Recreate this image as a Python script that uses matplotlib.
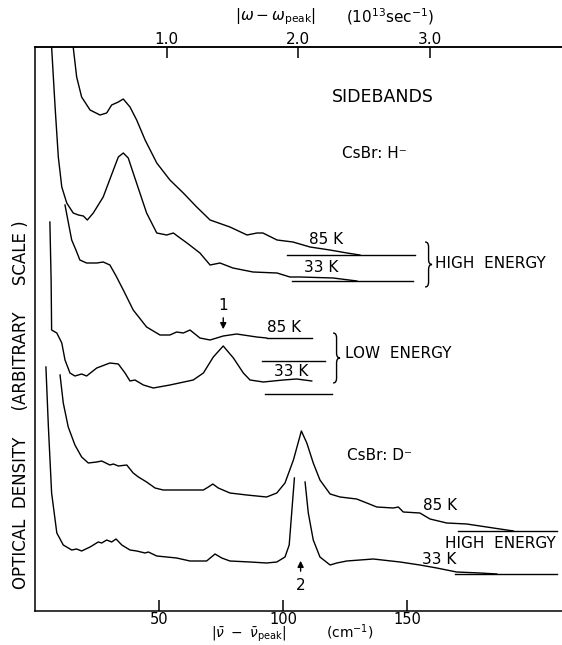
import numpy as np
import matplotlib
matplotlib.use("Agg")
import matplotlib.pyplot as plt
from matplotlib.path import Path
from matplotlib.patches import PathPatch

# --- data (x in cm^-1, y in arbitrary OD units) ---
# CsBr:H- , high energy sideband, 85 K
h85_hi_x = [15.4, 16.8, 18.8, 22.2, 26.2, 28.9, 30.9, 33.6, 35.6, 38.3, 41.0, 44.4, 49.1,
            54.4, 59.8, 65.2, 70.6, 78.6, 85.5, 89.5, 91.9, 97.6, 104.0, 110.9, 118.9, 125.8, 131.0]
h85_hi_y = [564, 534, 514, 501, 496, 498, 506, 509, 512, 504, 491, 471, 448,
            431, 418, 404, 391, 384, 376, 378, 378, 371, 369, 364, 361, 358, 356]

# CsBr:H- , high energy sideband, 33 K
h33_hi_x = [6.7, 8.1, 9.4, 10.8, 12.8, 15.4, 17.5, 19.5, 21.1, 23.5, 27.5, 31.6, 33.6, 35.6,
            37.6, 39.6, 42.3, 45.0, 49.1, 53.1, 55.8, 58.5, 61.3, 66.5, 70.6, 74.6, 79.8,
            87.9, 97.6, 102.8, 106.9, 120.2, 129.8]
h33_hi_y = [564, 504, 454, 424, 408, 398, 396, 395, 391, 398, 414, 441, 454, 458,
            453, 438, 418, 398, 378, 376, 378, 373, 368, 358, 346, 348, 343,
            339, 338, 334, 334, 333, 330]

# CsBr:H- , low energy sideband, 85 K
h85_lo_x = [12.1, 13.4, 14.8, 16.5, 18.1, 20.8, 24.9, 27.5, 30.2, 32.7, 35.6, 39.6, 45.0,
            50.4, 54.4, 57.1, 59.8, 62.5, 66.5, 70.6, 75.9, 81.3, 89.4, 93.4]
h85_lo_y = [406, 389, 371, 361, 351, 348, 348, 349, 346, 335, 321, 301, 284,
            276, 276, 279, 278, 281, 273, 271, 275, 277, 274, 273]

# CsBr:H- , low energy sideband, 33 K
h33_lo_x = [6.0, 6.5, 6.7, 8.8, 10.8, 12.1, 14.1, 16.1, 18.8, 20.8, 24.9, 30.2, 33.6, 36.3,
            38.3, 40.3, 43.7, 47.7, 54.4, 63.8, 67.9, 71.9, 75.9, 80.0, 84.0, 86.7, 92.1,
            100.1, 105.5, 111.6]
h33_lo_y = [389, 331, 281, 278, 268, 251, 238, 235, 237, 235, 243, 248, 247, 238,
            230, 231, 226, 223, 226, 231, 238, 254, 265, 253, 238, 231, 229,
            231, 232, 230]

# CsBr:D- , high energy sideband, 85 K
d85_x = [10.1, 11.4, 13.4, 16.1, 18.8, 21.5, 24.9, 26.9, 30.2, 31.6, 33.6, 37.0, 39.6, 41.7,
         45.0, 48.4, 51.7, 58.5, 67.9, 69.9, 71.7, 73.9, 78.6, 85.4, 93.4, 97.5, 100.8,
         104.2, 107.4, 109.6, 112.2, 114.9, 119.0, 123.0, 129.7, 133.8, 137.8, 144.5, 146.5,
         148.5, 155.2, 157.9, 159.3, 166.0, 174.1, 184.8, 192.9]
d85_y = [236, 208, 184, 166, 154, 148, 149, 150, 146, 147, 145, 146, 138, 134,
         129, 123, 121, 121, 121, 124, 127, 123, 118, 116, 114, 118, 128,
         151, 180, 168, 148, 131, 117, 114, 112, 108, 104, 103, 104,
         99, 98, 94, 92, 88, 87, 83, 80]

# CsBr:D- , high energy sideband, 33 K (peak top broken off)
d33_left_x = [4.4, 5.4, 6.7, 8.8, 11.4, 14.8, 16.8, 18.8, 22.2, 25.5, 26.9, 28.9, 30.9, 32.7,
              35.0, 38.3, 41.0, 44.4, 45.7, 49.1, 53.1, 57.1, 62.5, 69.2, 72.6, 75.3, 78.6,
              86.7, 93.4, 97.5, 100.8, 102.5, 103.5, 104.6]
d33_left_y = [244, 184, 118, 78, 66, 61, 62, 60, 64, 69, 68, 71, 69, 72,
              66, 61, 60, 58, 59, 55, 54, 53, 50, 50, 57, 53, 50,
              49, 48, 49, 54, 66, 98, 133]
d33_right_x = [108.9, 110.2, 112.2, 114.9, 119.0, 121.7, 125.7, 136.4, 147.2, 155.2, 162.0,
               170.0, 179.4, 186.2]
d33_right_y = [129, 98, 71, 54, 46, 48, 50, 52, 49, 46, 43, 39, 38, 37]

# baselines drawn under each trace: (x start, x end, level)
baselines = [(101.6, 153.2, 356), (103.6, 152.4, 330),
             (93.4, 111.6, 273), (91.4, 116.9, 250), (92.7, 119.6, 217),
             (170.7, 210.4, 80), (169.4, 210.4, 37)]

CM_PER_1E13 = 1e13 / (2 * np.pi * 2.998e10)   # cm^-1 per 10^13 s^-1
top_ticks = [1.0, 2.0, 3.0]
bottom_ticks = [50, 100, 150]

plt.rcParams['font.family'] = ['DejaVu Sans']
fig = plt.figure(figsize=(5.62, 6.45), dpi=100)
ax = fig.add_axes([35 / 562, 34 / 645, 527 / 562, 564 / 645])
ax.set_xlim(0, 212.5)
ax.set_ylim(0, 564)

lk = dict(color='black', lw=1.0)
for xs, ys in [(h85_hi_x, h85_hi_y), (h33_hi_x, h33_hi_y), (h85_lo_x, h85_lo_y),
               (h33_lo_x, h33_lo_y), (d85_x, d85_y), (d33_left_x, d33_left_y),
               (d33_right_x, d33_right_y)]:
    ax.plot(xs, ys, **lk)
for x0, x1, yv in baselines:
    ax.plot([x0, x1], [yv, yv], **lk)

# spines / ticks
ax.spines['right'].set_visible(False)
for s in ['left', 'bottom', 'top']:
    ax.spines[s].set_linewidth(1.1)
ax.set_yticks([])
ax.set_xticks(bottom_ticks)
ax.tick_params(axis='x', direction='in', length=8, width=1.1, labelsize=10.5, pad=0.5)

sec = ax.secondary_xaxis('top', functions=(lambda v: v / CM_PER_1E13, lambda w: w * CM_PER_1E13))
sec.set_xticks(top_ticks)
sec.set_xticklabels(['%.1f' % t for t in top_ticks])
sec.tick_params(direction='in', length=8, width=1.1, labelsize=11, pad=0)
sec.spines['top'].set_linewidth(1.1)


def brace(x0, x1, y0, y1, r):
    xm = (x0 + x1) / 2
    ym = (y0 + y1) / 2
    verts = [(x0, y1), (xm, y1), (xm, y1 - r), (xm, ym + r), (xm, ym), (x1, ym),
             (xm, ym), (xm, ym - r), (xm, y0 + r), (xm, y0), (x0, y0)]
    codes = [Path.MOVETO, Path.CURVE3, Path.CURVE3, Path.LINETO, Path.CURVE3, Path.CURVE3,
             Path.CURVE3, Path.CURVE3, Path.LINETO, Path.CURVE3, Path.CURVE3]
    ax.add_patch(PathPatch(Path(verts, codes), fill=False, lw=1.0, ec='black'))


brace(157.3, 160.1, 324, 369, 5)
brace(120.2, 123.0, 228, 278, 5)

tk = dict(fontsize=11, color='black')
ax.text(140.3, 514, 'SIDEBANDS', ha='center', va='center', fontsize=12.5)
ax.text(137.0, 458, 'CsBr: H⁻', ha='center', va='center', **tk)
ax.text(139.1, 156, 'CsBr: D⁻', ha='center', va='center', **tk)
ax.text(117.5, 371, '85 K', ha='center', va='center', **tk)
ax.text(115.5, 343, '33 K', ha='center', va='center', **tk)
ax.text(161.3, 347, 'HIGH  ENERGY', ha='left', va='center', **tk)
ax.text(100.5, 283, '85 K', ha='center', va='center', **tk)
ax.text(103.4, 239, '33 K', ha='center', va='center', **tk)
ax.text(125.0, 258, 'LOW  ENERGY', ha='left', va='center', **tk)
ax.text(163.3, 106, '85 K', ha='center', va='center', **tk)
ax.text(187.5, 67, 'HIGH  ENERGY', ha='center', va='center', **tk)
ax.text(163.0, 51, '33 K', ha='center', va='center', **tk)

# arrows 1 and 2
ax.annotate('', xy=(75.9, 279), xytext=(75.9, 296),
            arrowprops=dict(arrowstyle='-|>', color='black', lw=1.0, mutation_scale=9))
ax.text(75.9, 305, '1', ha='center', va='center', **tk)
ax.annotate('', xy=(107.1, 53), xytext=(107.1, 37),
            arrowprops=dict(arrowstyle='-|>', color='black', lw=1.0, mutation_scale=9))
ax.text(107.1, 26, '2', ha='center', va='center', **tk)

# axis titles
ax.text(80.6, 594, r'$|\omega-\omega_{\rm peak}|$', ha='left', va='center', fontsize=11)
ax.text(125.4, 594, r'(10$^{13}$sec$^{-1}$)', ha='left', va='center', fontsize=11)
ax.text(71.0, -26.5, r'$|\bar{\nu}\ -\ \bar{\nu}_{\rm peak}|$', ha='left', va='baseline', fontsize=10)
ax.text(117.3, -26.5, r'(cm$^{-1}$)', ha='left', va='baseline', fontsize=10)
fig.text(21 / 562, 1 - 405 / 645, 'OPTICAL  DENSITY     (ARBITRARY     SCALE )',
         rotation=90, ha='center', va='center', fontsize=12)

fig.savefig('out.png', dpi=100)
